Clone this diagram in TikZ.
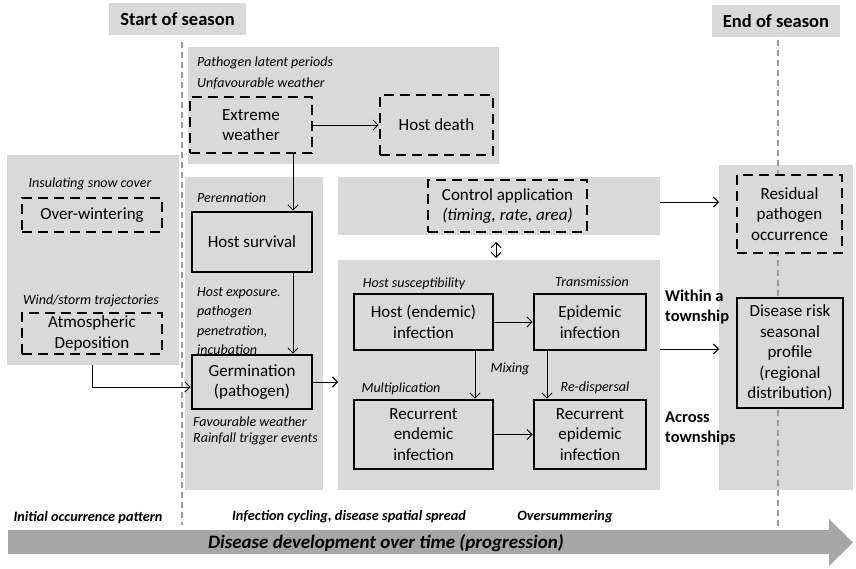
\documentclass[tikz,border=0pt]{standalone}
\usepackage{fontspec}
\setmainfont{Carlito}
\usetikzlibrary{arrows.meta,calc,fit}
\definecolor{panel}{HTML}{D9D9D9}
\definecolor{bigarrow}{HTML}{A6A6A6}
\definecolor{seasonline}{HTML}{9A9A9A}
\begin{document}
\begin{tikzpicture}[x=1pt,y=-1pt,
  panelbox/.style={fill=panel, draw=none, inner sep=0pt, outer sep=0pt},
  header/.style={panelbox, font=\fontsize{18.5}{22}\selectfont\bfseries},
  boxtext/.style={align=center, font=\fontsize{17}{20.5}\selectfont, inner sep=0pt},
  dashbox/.style={boxtext, draw=black, fill=panel, line width=2.6pt, dash pattern=on 10pt off 6pt},
  solidbox/.style={boxtext, draw=black, fill=panel, line width=2.8pt},
  lbl/.style={font=\fontsize{14}{17}\selectfont\itshape, inner sep=0pt},
  blbl/.style={font=\fontsize{16.5}{20}\selectfont\bfseries, inner sep=0pt, align=left, anchor=west},
  botlbl/.style={font=\fontsize{14.3}{17}\selectfont\bfseries\itshape, inner sep=0pt},
  arr/.style={-{Straight Barb[length=5pt,width=10pt]}, line width=0.9pt},
  dblarr/.style={{Straight Barb[length=5pt,width=10pt]}-{Straight Barb[length=5pt,width=10pt]}, line width=0.9pt},
  seasondash/.style={draw=seasonline, line width=1.3pt, dash pattern=on 6pt off 4pt}]
\useasboundingbox (0,0) rectangle (856,569);

% headers
\node[header, fit={(109,3) (246,35)}] (startH) {};
\node at (startH.center) [font=\fontsize{18.5}{22}\selectfont\bfseries] (startT) {Start of season};
\node[header, fit={(712,5) (840,37)}] (endH) {};
\node at (endH.center) [font=\fontsize{18.5}{22}\selectfont\bfseries] (endT) {End of season};

% panels
\node[panelbox, fit={(188,47) (499,164)}] (toppanel) {};
\node[panelbox, fit={(7,155) (179,365)}] (leftpanel) {};
\node[panelbox, fit={(185,177) (323,490)}] (perpanel) {};
\node[panelbox, fit={(338,177) (660,235)}] (ctrlpanel) {};
\node[panelbox, fit={(338,260) (660,490)}] (infpanel) {};
\node[panelbox, fit={(719,165) (853,490)}] (rightpanel) {};

% season lines
\coordinate (s1) at (182,42);
\coordinate (s2) at (182,525);
\coordinate (e1) at (778,40);
\coordinate (e2) at (778,530);
\draw[seasondash] (s1) -- (s2);
\draw[seasondash] (e1) -- (e2);

% boxes
\node[dashbox, fit={(190,97) (312,153)}] (extreme) {};
\node[boxtext] at (extreme.center) (extremeT) {Extreme\\weather};
\node[dashbox, fit={(380,95) (493,155)}] (hostdeath) {};
\node[boxtext] at (hostdeath.center) (hostdeathT) {Host death};
\node[dashbox, fit={(22,198) (162,232)}] (overwinter) {};
\node[boxtext] at (overwinter.center) (overwinterT) {Over-wintering};
\node[dashbox, fit={(22,313) (162,354)}] (atmo) {};
\node[boxtext] at (atmo.center) (atmoT) {Atmospheric\\Deposition};
\node[solidbox, fit={(192,212) (312,272)}] (hostsurv) {};
\node[boxtext] at (hostsurv.center) (hostsurvT) {Host survival};
\node[solidbox, fit={(192,355) (312,409)}] (germ) {};
\node[boxtext] at (germ.center) (germT) {Germination\\(pathogen)};
\node[dashbox, fit={(428,180) (587,232)}] (control) {};
\node[boxtext] at (control.center) (controlT) {Control application\\\textit{(timing, rate, area)}};
\node[solidbox, fit={(354,294) (493,350)}] (hostend) {};
\node[boxtext] at (hostend.center) (hostendT) {Host (endemic)\\infection};
\node[solidbox, fit={(534,294) (646,350)}] (epi) {};
\node[boxtext] at (epi.center) (epiT) {Epidemic\\infection};
\node[solidbox, fit={(354,400) (493,469)}] (recend) {};
\node[boxtext] at (recend.center) (recendT) {Recurrent\\endemic\\infection};
\node[solidbox, fit={(534,400) (646,469)}] (recepi) {};
\node[boxtext] at (recepi.center) (recepiT) {Recurrent\\epidemic\\infection};
\node[dashbox, fit={(737,175) (842,253)}] (residual) {};
\node[boxtext] at (residual.center) (residualT) {Residual\\pathogen\\occurrence};
\node[solidbox, fit={(737,298) (843,408)}] (risk) {};
\node[boxtext] at (risk.center) (riskT) {Disease risk\\seasonal\\profile\\(regional\\distribution)};

% italic labels
\node[lbl, anchor=west] at (197,63) (l1) {Pathogen latent periods};
\node[lbl, anchor=west] at (197,83) (l2) {Unfavourable weather};
\node[lbl] at (90,184) (l3) {Insulating snow cover};
\node[lbl] at (91,301) (l4) {Wind/storm trajectories};
\node[lbl, anchor=west] at (197,198) (l5) {Perennation};
\node[lbl, anchor=west, align=left, font=\fontsize{14}{19.2}\selectfont\itshape] at (197,321) (l6) {Host exposure.\\pathogen\\penetration,\\incubation};
\node[lbl, anchor=west, align=left, font=\fontsize{14}{16.5}\selectfont\itshape] at (193,431) (l7) {Favourable weather\\Rainfall trigger events};
\node[lbl] at (414,284) (l8) {Host susceptibility};
\node[lbl] at (592,282) (l9) {Transmission};
\node[lbl] at (510,369) (l10) {Mixing};
\node[lbl] at (401,389) (l11) {Multiplication};
\node[lbl] at (595,388) (l12) {Re-dispersal};

% bold labels
\node[blbl] at (665,307) (within) {Within a\\township};
\node[blbl] at (665,428) (across) {Across\\townships};

% bottom
\fill[bigarrow] (8,530) -- (829,530) -- (829,519) -- (853,542.5) -- (829,566) -- (829,554) -- (8,554) -- cycle;
\node[font=\fontsize{19}{22}\selectfont\bfseries\itshape, inner sep=0pt] at (386,543) (progress) {Disease development over time (progression)};
\node[botlbl] at (88,518) (b1) {Initial occurrence pattern};
\node[botlbl] at (349,517) (b2) {Infection cycling, disease spatial spread};
\node[botlbl] at (565,517) (b3) {Oversummering};

% connectors
\coordinate (colx) at (293,0);
\coordinate (mx1) at (475,0);
\coordinate (mx2) at (547,0);
\coordinate (dx) at (496,0);
\draw[arr] (extreme.east) -- (hostdeath.west);
\draw[arr] (extreme.south -| colx) -- (hostsurv.north -| colx);
\draw[arr] (hostsurv.south -| colx) -- (germ.north -| colx);
\draw[arr] (atmo.south |- leftpanel.south) |- ([yshift=-5pt]germ.west);
\draw[arr] (germ.east) -- (germ.east -| infpanel.west);
\draw[dblarr, shorten <=7pt, shorten >=2pt] (ctrlpanel.south -| dx) -- (infpanel.north -| dx);
\draw[arr] ([yshift=4pt]ctrlpanel.east) -- ([yshift=4pt]ctrlpanel.east -| rightpanel.west);
\draw[arr] (hostend.east) -- (epi.west);
\draw[arr] (hostend.south -| mx1) -- (recend.north -| mx1);
\draw[arr] (epi.south -| mx2) -- (recepi.north -| mx2);
\draw[arr] (recend.east) -- (recepi.west);
\draw[arr] ([yshift=4pt]risk.west -| infpanel.east) -- ([yshift=4pt]risk.west -| rightpanel.west);
\end{tikzpicture}
\end{document}
